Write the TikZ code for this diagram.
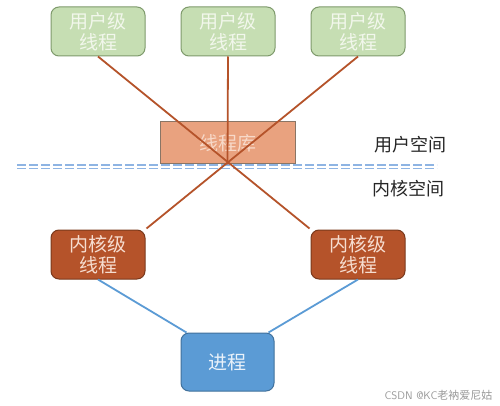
\documentclass[tikz,border=0pt]{standalone}
\usepackage{fontspec}
\newfontfamily\cjk{Noto Sans CJK SC}
\definecolor{ufill}{HTML}{C6DEB3}
\definecolor{udraw}{HTML}{7E9A6C}
\definecolor{utext}{HTML}{F2F7EC}
\definecolor{lfill}{HTML}{E9A27F}
\definecolor{ldraw}{HTML}{8A7565}
\definecolor{ltext}{HTML}{F7D9C9}
\definecolor{kfill}{HTML}{B5532A}
\definecolor{kdraw}{HTML}{7A391C}
\definecolor{ktext}{HTML}{F6DDD0}
\definecolor{pfill}{HTML}{5B9BD5}
\definecolor{pdraw}{HTML}{41719C}
\definecolor{ptext}{HTML}{EAF2FA}
\definecolor{redline}{HTML}{B5532A}
\definecolor{blueline}{HTML}{5B9BD5}
\definecolor{dashblue}{HTML}{8EB4E3}
\begin{document}
\begin{tikzpicture}[x=1pt,y=-1pt,
  box/.style={rounded corners=8pt, line width=1pt, minimum width=94pt, minimum height=49pt,
    inner sep=0pt, align=center, font=\cjk\fontsize{19}{21}\selectfont},
  userbox/.style={box, fill=ufill, draw=udraw, text=utext},
  kernbox/.style={box, fill=kfill, draw=kdraw, text=ktext},
  procbox/.style={box, fill=pfill, draw=pdraw, text=ptext, minimum width=93pt, minimum height=58pt},
  libbox/.style={fill=lfill, draw=ldraw, line width=1pt, minimum width=135pt, minimum height=42pt,
    inner sep=0pt, text=ltext, font=\cjk\fontsize{19}{21}\selectfont},
  redconn/.style={draw=redline, line width=1.8pt},
  blueconn/.style={draw=blueline, line width=1.8pt},
  dashline/.style={draw=dashblue, line width=1.5pt, dash pattern=on 9pt off 3pt},
  spacelabel/.style={font=\cjk\fontsize{18}{20}\selectfont, text=black!85},
]
\useasboundingbox[fill=white] (0,0) rectangle (500,406);

\node[userbox] (u1) at (98,31.5) {用户级\\线程};
\node[userbox] (u2) at (228,31.5) {用户级\\线程};
\node[userbox] (u3) at (358,31.5) {用户级\\线程};

\node[libbox] (lib) at (227.5,143) {线程库};

\coordinate (dl1a) at (17,165);
\coordinate (dl1b) at (437,165);
\coordinate (dl2a) at (17,168.5);
\coordinate (dl2b) at (437,168.5);
\draw[dashline] (dl1a) -- (dl1b);
\draw[dashline] (dl2a) -- (dl2b);

\node[spacelabel] (us) at (410,145) {用户空间};
\node[spacelabel] (ks) at (408,189) {内核空间};

\node[kernbox] (k1) at (98,254.5) {内核级\\线程};
\node[kernbox] (k2) at (358,254.5) {内核级\\线程};

\node[procbox] (p) at (227.5,362) {进程};

\coordinate (cross) at (lib.south);
\draw[redconn] (u1.south) -- ([xshift=-1pt,yshift=1pt]k2.north west);
\draw[redconn] (u3.south) -- ([xshift=1pt,yshift=1pt]k1.north east);
\draw[redconn] (u2.south) -- (cross);

\draw[blueconn] (k1.south) -- ([xshift=6pt]p.north west);
\draw[blueconn] (k2.south) -- ([xshift=-6pt]p.north east);

\node[font=\sffamily\fontsize{11}{12}\selectfont, text=black!40, anchor=east] (wm) at (496,395) {CSDN @KC\cjk 老衲爱尼姑};
\end{tikzpicture}
\end{document}
